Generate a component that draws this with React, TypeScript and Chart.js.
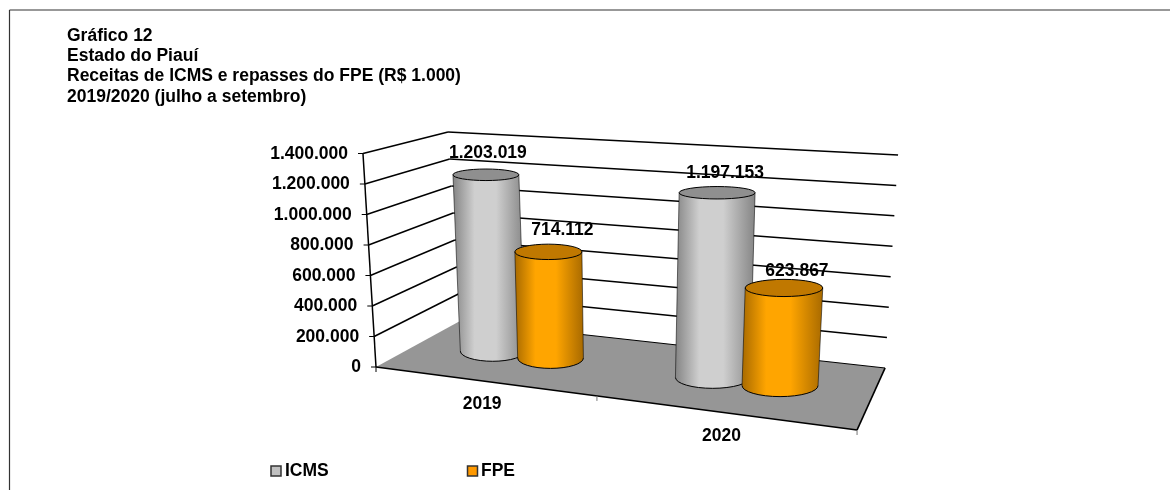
import React, { useEffect, useRef } from "react";
import { Chart, registerables } from "chart.js";

Chart.register(...registerables);

const categories = ["2019", "2020"];
const seriesNames = ["ICMS", "FPE"];
const icmsValues = [1203019, 1197153];
const fpeValues = [714112, 623867];
const titleLines = [
  "Gráfico 12",
  "Estado do Piauí",
  "Receitas de ICMS e repasses do FPE (R$ 1.000)",
  "2019/2020 (julho a setembro)",
];

const FONT = '"Liberation Sans", Arial, sans-serif';
const FONT_SIZE = 17.5;
const fmt = (v: number) => String(Math.round(v)).replace(/\B(?=(\d{3})+(?!\d))/g, ".");

// Floor plane homography (front-left, front-right, back-right, back-left), and the
// vertical vector that a full-scale value adds at each of those corners.
const H = { a: 351.9, b: 149.2, c: 376, d: -1.8, e: -0.5, f: 367, g: -0.1507, h: 0.1417 };
const RISE = {
  fl: [-13, -213.5],
  fr: [14, -233],
  br: [13, -213],
  bl: [-12, -189],
};
const DEPTH = 0.5;

function project(u: number, v: number, t: number): [number, number] {
  const w = H.g * u + H.h * v + 1;
  const x = (H.a * u + H.b * v + H.c) / w;
  const y = (H.d * u + H.e * v + H.f) / w;
  const mix = (i: 0 | 1) =>
    (1 - u) * (1 - v) * RISE.fl[i] + u * (1 - v) * RISE.fr[i] + u * v * RISE.br[i] + (1 - u) * v * RISE.bl[i];
  return [x + t * mix(0), y + t * mix(1)];
}

const ellipseRy = (y: number) => 1.4 + 0.025 * y;

const SERIES_STYLE = [
  { edge: "#858585", mid: "#cfcfcf", top: "#8f8f8f", legend: "#c0c0c0" },
  { edge: "#a86a00", mid: "#ffa500", top: "#c07800", legend: "#ff9900" },
];
const LABEL_SHIFT = [
  [[2, -21.5], [8, -20]],
  [[14, -22], [13, -17]],
];

function line(ctx: CanvasRenderingContext2D, p: number[], q: number[], width = 1.5, color = "#000") {
  ctx.beginPath();
  ctx.moveTo(p[0], p[1]);
  ctx.lineTo(q[0], q[1]);
  ctx.lineWidth = width;
  ctx.strokeStyle = color;
  ctx.stroke();
}

function drawCylinder(ctx: CanvasRenderingContext2D, el: any, area: any, s: number, yTop: number) {
  const u = (el.x - area.left) / area.width;
  const r = el.width / 2 / area.width;
  const t = (el.base - el.y) / (el.base - yTop);
  const b = project(u, DEPTH, 0);
  const c = project(u, DEPTH, t);
  const cl = project(u - r, DEPTH, t);
  const cr = project(u + r, DEPTH, t);
  const rxT = (cr[0] - cl[0]) / 2;
  const rxB = rxT * 0.98;
  const ryB = ellipseRy(b[1]);
  const ryT = ellipseRy(c[1]);
  const style = SERIES_STYLE[s];
  const gx0 = Math.min(c[0] - rxT, b[0] - rxB);
  const gx1 = Math.max(c[0] + rxT, b[0] + rxB);
  const grad = ctx.createLinearGradient(gx0, 0, gx1, 0);
  grad.addColorStop(0, style.edge);
  grad.addColorStop(0.3, style.mid);
  grad.addColorStop(0.6, style.mid);
  grad.addColorStop(1, style.edge);
  ctx.beginPath();
  ctx.moveTo(c[0] - rxT, c[1]);
  ctx.lineTo(b[0] - rxB, b[1]);
  ctx.ellipse(b[0], b[1], rxB, ryB, 0, Math.PI, 0, true);
  ctx.lineTo(c[0] + rxT, c[1]);
  ctx.closePath();
  ctx.fillStyle = grad;
  ctx.fill();
  // faint silhouette on the sides, dark arc at the foot
  ctx.lineWidth = 1;
  ctx.strokeStyle = "rgba(0,0,0,0.55)";
  ctx.beginPath();
  ctx.moveTo(c[0] - rxT, c[1]);
  ctx.lineTo(b[0] - rxB, b[1]);
  ctx.moveTo(c[0] + rxT, c[1]);
  ctx.lineTo(b[0] + rxB, b[1]);
  ctx.stroke();
  ctx.strokeStyle = "#000";
  ctx.beginPath();
  ctx.ellipse(b[0], b[1], rxB, ryB, 0, Math.PI, 0, true);
  ctx.stroke();
  ctx.beginPath();
  ctx.ellipse(c[0], c[1], rxT, ryT, 0, 0, Math.PI * 2);
  ctx.fillStyle = style.top;
  ctx.fill();
  ctx.stroke();
  return c;
}

const scene3d = {
  id: "scene3d",
  beforeDraw(chart: any) {
    const { ctx, width, height, scales } = chart;
    const y = scales.y;
    ctx.save();
    ctx.fillStyle = "#fff";
    ctx.fillRect(0, 0, width, height);
    line(ctx, [9.5, height], [9.5, 10], 1.2, "#333");
    line(ctx, [9.5, 10], [width, 10], 1.2, "#333");

    const base = y.getPixelForValue(0);
    const top = y.getPixelForValue(y.max);

    // floor
    const fl = project(0, 0, 0), fr = project(1, 0, 0), br = project(1, 1, 0), bl = project(0, 1, 0);
    ctx.beginPath();
    ctx.moveTo(fl[0], fl[1]);
    ctx.lineTo(fr[0], fr[1]);
    ctx.lineTo(br[0], br[1]);
    ctx.lineTo(bl[0], bl[1]);
    ctx.closePath();
    ctx.fillStyle = "#969696";
    ctx.fill();
    line(ctx, bl, br, 1);

    // walls and value axis
    y.ticks.forEach((tick: any, i: number) => {
      const t = (base - y.getPixelForTick(i)) / (base - top);
      const p0 = project(0, 0, t), p1 = project(0, 1, t), p2 = project(1, 1, t);
      if (t > 0) {
        line(ctx, p0, p1);
        line(ctx, p1, p2);
      }
      line(ctx, [p0[0] - 5, p0[1]], p0, 1);
      ctx.fillStyle = "#000";
      ctx.font = `bold ${FONT_SIZE}px ${FONT}`;
      ctx.textAlign = "right";
      ctx.textBaseline = "middle";
      ctx.fillText(tick.label, p0[0] - 15, p0[1] + 0.5);
    });
    line(ctx, project(0, 0, 0), project(0, 0, 1), 1.5);

    // front edges, category ticks and labels
    line(ctx, fl, fr, 1.7);
    line(ctx, fr, br, 1.7);
    const n = categories.length;
    for (let i = 0; i <= n; i++) {
      const p = project(i / n, 0, 0);
      line(ctx, p, [p[0], p[1] + 5], 1, i === 0 ? "#000" : "#777");
    }
    categories.forEach((label, i) => {
      const p = project((i + 0.5) / n, 0, 0);
      ctx.fillStyle = "#000";
      ctx.font = `bold ${FONT_SIZE}px ${FONT}`;
      ctx.textAlign = "center";
      ctx.textBaseline = "middle";
      ctx.fillText(label, p[0], p[1] + 23.5);
    });

    // legend
    const legendX = [[271, 285], [467.5, 481]];
    chart.data.datasets.forEach((ds: any, i: number) => {
      ctx.fillStyle = SERIES_STYLE[i].legend;
      ctx.fillRect(legendX[i][0], 466, 10, 10);
      ctx.lineWidth = 1.5;
      ctx.strokeStyle = "#333";
      ctx.strokeRect(legendX[i][0], 466, 10, 10);
      ctx.fillStyle = "#000";
      ctx.font = `bold ${FONT_SIZE}px ${FONT}`;
      ctx.textAlign = "left";
      ctx.textBaseline = "middle";
      ctx.fillText(ds.label, legendX[i][1], 471);
    });
    ctx.restore();
  },
  beforeDatasetsDraw(chart: any) {
    const { ctx, chartArea, scales } = chart;
    const yTop = scales.y.getPixelForValue(scales.y.max);
    const labels: [string, number, number][] = [];
    ctx.save();
    categories.forEach((_, c) => {
      chart.data.datasets.forEach((ds: any, s: number) => {
        const el = chart.getDatasetMeta(s).data[c];
        const top = drawCylinder(ctx, el, chartArea, s, yTop);
        const shift = LABEL_SHIFT[s][c];
        labels.push([fmt(ds.data[c]), top[0] + shift[0], top[1] + shift[1]]);
      });
    });
    ctx.fillStyle = "#000";
    ctx.font = `bold ${FONT_SIZE}px ${FONT}`;
    ctx.textAlign = "center";
    ctx.textBaseline = "middle";
    labels.forEach(([text, x, y]) => ctx.fillText(text, x, y));
    ctx.restore();
    return false;
  },
};

export default function App() {
  const ref = useRef<HTMLCanvasElement>(null);
  useEffect(() => {
    const chart = new Chart(ref.current!, {
      type: "bar",
      data: {
        labels: categories,
        datasets: [
          { label: seriesNames[0], data: icmsValues, backgroundColor: SERIES_STYLE[0].legend },
          { label: seriesNames[1], data: fpeValues, backgroundColor: SERIES_STYLE[1].legend },
        ],
      },
      options: {
        responsive: false,
        animation: false,
        events: [],
        layout: { padding: { left: 67, right: 313, top: 0, bottom: 123 } },
        datasets: { bar: { categoryPercentage: 0.556, barPercentage: 1.1 } },
        plugins: {
          legend: { display: false },
          tooltip: { enabled: false },
          title: {
            display: true,
            text: titleLines,
            align: "start",
            color: "#000",
            font: { family: FONT, size: FONT_SIZE, weight: "bold", lineHeight: 20.4 / FONT_SIZE },
            padding: { top: 25.6, bottom: 46.3 },
          },
        },
        scales: {
          x: { display: false },
          y: {
            min: 0,
            max: 1400000,
            grid: { display: false },
            border: { display: false },
            ticks: { stepSize: 200000, display: false, callback: (v: any) => fmt(Number(v)) },
            afterFit: (scale: any) => {
              scale.width = 309;
            },
          },
        },
      },
      plugins: [scene3d],
    } as any);
    return () => chart.destroy();
  }, []);
  return (
    <div style={{ position: "fixed", left: 0, top: 0, width: 1170, height: 490, background: "#fff" }}>
      <canvas ref={ref} width={1170} height={490} style={{ display: "block" }} />
    </div>
  );
}
